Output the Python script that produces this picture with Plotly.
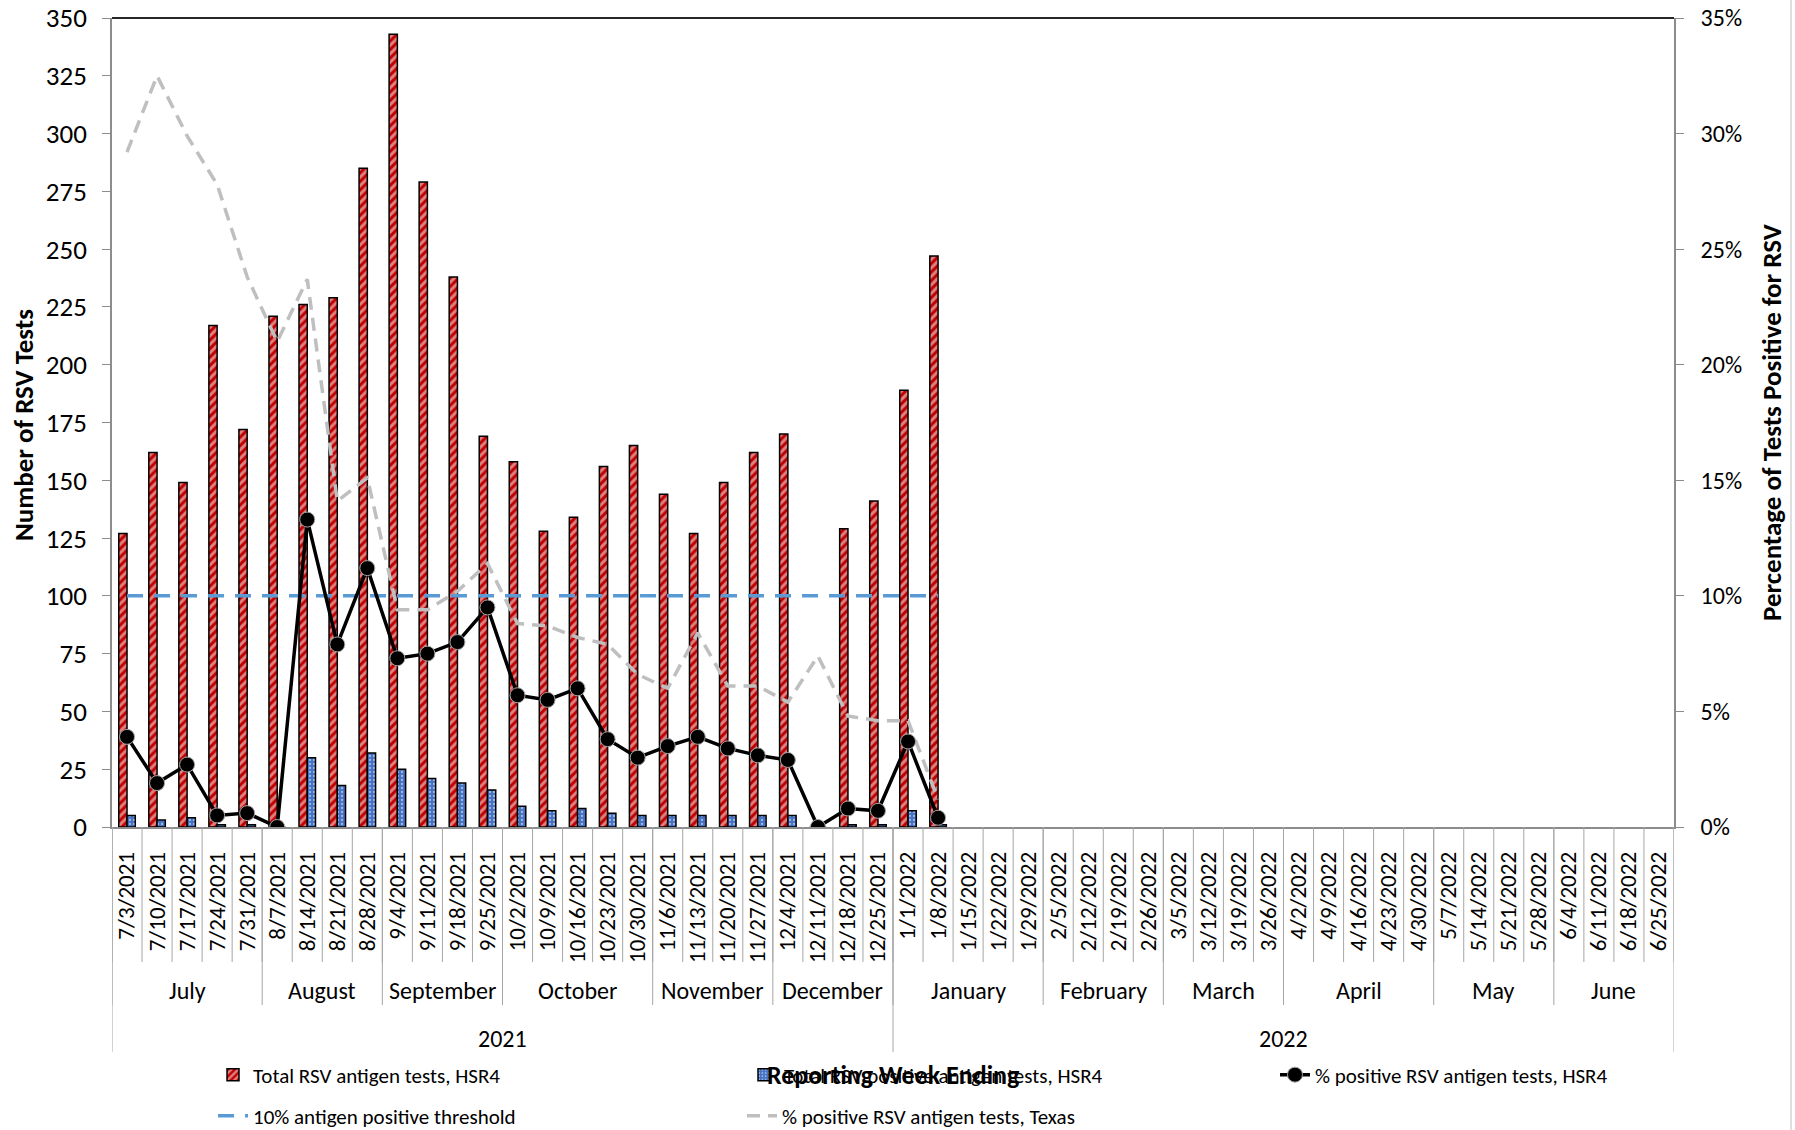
import plotly.graph_objects as go

# weekly reporting dates (week ending)
dates = ["7/3/2021", "7/10/2021", "7/17/2021", "7/24/2021", "7/31/2021",
         "8/7/2021", "8/14/2021", "8/21/2021", "8/28/2021",
         "9/4/2021", "9/11/2021", "9/18/2021", "9/25/2021",
         "10/2/2021", "10/9/2021", "10/16/2021", "10/23/2021", "10/30/2021",
         "11/6/2021", "11/13/2021", "11/20/2021", "11/27/2021",
         "12/4/2021", "12/11/2021", "12/18/2021", "12/25/2021",
         "1/1/2022", "1/8/2022", "1/15/2022", "1/22/2022", "1/29/2022",
         "2/5/2022", "2/12/2022", "2/19/2022", "2/26/2022",
         "3/5/2022", "3/12/2022", "3/19/2022", "3/26/2022",
         "4/2/2022", "4/9/2022", "4/16/2022", "4/23/2022", "4/30/2022",
         "5/7/2022", "5/14/2022", "5/21/2022", "5/28/2022",
         "6/4/2022", "6/11/2022", "6/18/2022", "6/25/2022"]

month_names = ["", "January", "February", "March", "April", "May", "June",
               "July", "August", "September", "October", "November", "December"]

# reported weeks only (7/3/2021 - 1/8/2022)
total_tests = [127, 162, 149, 217, 172, 221, 226, 229, 285, 343, 279, 238, 169,
               158, 128, 134, 156, 165, 144, 127, 149, 162, 170, 0, 129, 141,
               189, 247]
positive_tests = [5, 3, 4, 1, 1, 0, 30, 18, 32, 25, 21, 19, 16,
                  9, 7, 8, 6, 5, 5, 5, 5, 5, 5, 0, 1, 1, 7, 1]
pct_hsr4 = [0.039, 0.019, 0.027, 0.005, 0.006, 0.0, 0.133, 0.079, 0.112, 0.073,
            0.075, 0.080, 0.095, 0.057, 0.055, 0.060, 0.038, 0.030, 0.035,
            0.039, 0.034, 0.031, 0.029, 0.0, 0.008, 0.007, 0.037, 0.004]
pct_texas = [0.292, 0.325, 0.299, 0.278, 0.238, 0.210, 0.237, 0.141, 0.151,
             0.094, 0.094, 0.102, 0.114, 0.088, 0.087, 0.082, 0.079, 0.066,
             0.060, 0.084, 0.061, 0.061, 0.054, 0.074, 0.048, 0.046, 0.046,
             0.012]
threshold = [0.10] * 28

FONT = "Carlito, Lato, sans-serif"
AXIS_GRAY = "#8C8C8C"
SEP_GRAY = "#A6A6A6"

n = len(total_tests)
wk = dates[:n]

fig = go.Figure()

fig.add_trace(go.Bar(
    x=wk, y=total_tests, name="Total RSV antigen tests, HSR4",
    marker=dict(color="#C00000", line=dict(color="black", width=1.5),
                pattern=dict(shape="/", fgcolor="white", bgcolor="#C00000",
                             size=6, solidity=0.5)),
    showlegend=True, legend="legend"))
fig.add_trace(go.Bar(
    x=wk, y=positive_tests, name="Total RSV positive antigen tests, HSR4",
    marker=dict(color="#4472C4", line=dict(color="black", width=1.5),
                pattern=dict(shape=".", fgcolor="white", bgcolor="#4472C4",
                             size=4, solidity=0.25)),
    showlegend=True, legend="legend2"))
fig.add_trace(go.Scatter(
    x=wk, y=pct_texas, yaxis="y2", mode="lines",
    name="% positive RSV antigen tests, Texas",
    line=dict(color="#BFBFBF", width=3.5, dash="13px,8px"),
    showlegend=True, legend="legend5"))
fig.add_trace(go.Scatter(
    x=wk, y=threshold, yaxis="y2", mode="lines",
    name="10% antigen positive threshold",
    line=dict(color="#5B9BD5", width=3.5, dash="16px,11px"),
    showlegend=True, legend="legend4"))
fig.add_trace(go.Scatter(
    x=wk, y=pct_hsr4, yaxis="y2", mode="lines+markers",
    name="% positive RSV antigen tests, HSR4",
    line=dict(color="black", width=3.5),
    marker=dict(size=15, color="black", line=dict(color="#A6A6A6", width=1)),
    showlegend=True, legend="legend3"))

# plot area in pixels: left 112, right 1674, top 18, bottom 827
def py(Y):
    return (827 - Y) / 809.0

def px(X):
    return (X - 112) / 1562.0

shapes = []
annotations = []

# week separators
for i in range(len(dates) + 1):
    shapes.append(dict(type="line", xref="x", yref="paper", x0=i - 0.5, x1=i - 0.5,
                       y0=0, y1=py(962), line=dict(color=SEP_GRAY, width=1)))

# month and year groups
def groups(keys):
    out = []
    start = 0
    for i in range(1, len(keys) + 1):
        if i == len(keys) or keys[i] != keys[start]:
            out.append((keys[start], start, i - 1))
            start = i
    return out

month_keys = [d.split("/")[0] + "-" + d.split("/")[2] for d in dates]
year_keys = [d.split("/")[2] for d in dates]

for key, a, b in groups(month_keys):
    shapes.append(dict(type="line", xref="x", yref="paper", x0=a - 0.5, x1=a - 0.5,
                       y0=0, y1=py(1005), line=dict(color=SEP_GRAY, width=1)))
    annotations.append(dict(x=(a + b) / 2, y=py(991), xref="x", yref="paper",
                            xanchor="center", yanchor="middle",
                            text=month_names[int(key.split("-")[0])], showarrow=False,
                            font=dict(family=FONT, size=24, color="black")))

for key, a, b in groups(year_keys):
    shapes.append(dict(type="line", xref="x", yref="paper", x0=a - 0.5, x1=a - 0.5,
                       y0=0, y1=py(1052), line=dict(color=SEP_GRAY, width=1)))
    annotations.append(dict(x=(a + b) / 2, y=py(1038), xref="x", yref="paper",
                            xanchor="center", yanchor="middle",
                            text=key, showarrow=False,
                            font=dict(family=FONT, size=24, color="black")))
shapes.append(dict(type="line", xref="x", yref="paper", x0=len(dates) - 0.5,
                   x1=len(dates) - 0.5, y0=0, y1=py(1052),
                   line=dict(color=SEP_GRAY, width=1)))

# top border of plot and outer right border
shapes.append(dict(type="line", xref="paper", yref="paper", x0=0, x1=1, y0=1, y1=1,
                   line=dict(color="#262626", width=2)))
shapes.append(dict(type="line", xref="paper", yref="paper", x0=px(1791), x1=px(1791),
                   y0=py(1130), y1=py(0), line=dict(color="#BFBFBF", width=1)))

# axis titles
annotations.append(dict(x=px(23), y=py(425), xref="paper", yref="paper",
                        xanchor="center", yanchor="middle",
                        text="<b>Number of RSV Tests</b>", textangle=-90, showarrow=False,
                        font=dict(family=FONT, size=27, color="black")))
annotations.append(dict(x=px(1771), y=py(423), xref="paper", yref="paper",
                        xanchor="center", yanchor="middle",
                        text="<b>Percentage of Tests Positive for RSV</b>", textangle=-90,
                        showarrow=False, font=dict(family=FONT, size=27, color="black")))
annotations.append(dict(x=px(893), y=py(1075), xref="paper", yref="paper",
                        xanchor="center", yanchor="middle",
                        text="<b>Reporting Week Ending</b>", showarrow=False,
                        font=dict(family=FONT, size=26, color="black")))

legend_common = dict(orientation="h", xanchor="left", yanchor="middle",
                     bgcolor="rgba(0,0,0,0)", itemwidth=30,
                     font=dict(family=FONT, size=21, color="black"))

fig.update_layout(
    width=1795, height=1130,
    margin=dict(l=112, r=121, t=18, b=303, autoexpand=False),
    paper_bgcolor="white", plot_bgcolor="white",
    font=dict(family=FONT, color="black"),
    showlegend=True,
    barmode="group", bargap=0.45, bargroupgap=0,
    xaxis=dict(type="category", categoryorder="array", categoryarray=dates,
               range=[-0.5, len(dates) - 0.5], tickangle=-90,
               tickfont=dict(family=FONT, size=23, color="black"),
               showline=True, linecolor=AXIS_GRAY, linewidth=1.5, ticks="",
               ticklabelstandoff=14, showgrid=False),
    yaxis=dict(range=[0, 350], dtick=25, tick0=0, ticks="outside", ticklen=8,
               tickcolor=AXIS_GRAY, showline=True, linecolor=AXIS_GRAY, linewidth=1.5,
               showgrid=False, zeroline=False, ticklabelstandoff=10,
               tickfont=dict(family=FONT, size=27, color="black")),
    yaxis2=dict(overlaying="y", side="right", range=[0, 0.35], dtick=0.05, tick0=0,
                tickformat=".0%", ticks="outside", ticklen=8, tickcolor=AXIS_GRAY,
                showline=True, linecolor=AXIS_GRAY, linewidth=1.5, showgrid=False,
                zeroline=False, ticklabelstandoff=12,
                tickfont=dict(family=FONT, size=24, color="black")),
    legend=dict(x=px(213), y=py(1075), **legend_common),
    legend2=dict(x=px(744), y=py(1075), **legend_common),
    legend3=dict(x=px(1275), y=py(1075), **legend_common),
    legend4=dict(x=px(213), y=py(1116), **legend_common),
    legend5=dict(x=px(742), y=py(1116), **legend_common),
    shapes=shapes,
    annotations=annotations,
)

# page body margin would shift the figure by 8px
fig.write_html("out.html", config={"displayModeBar": False},
               post_script="document.body.style.margin='0';")
